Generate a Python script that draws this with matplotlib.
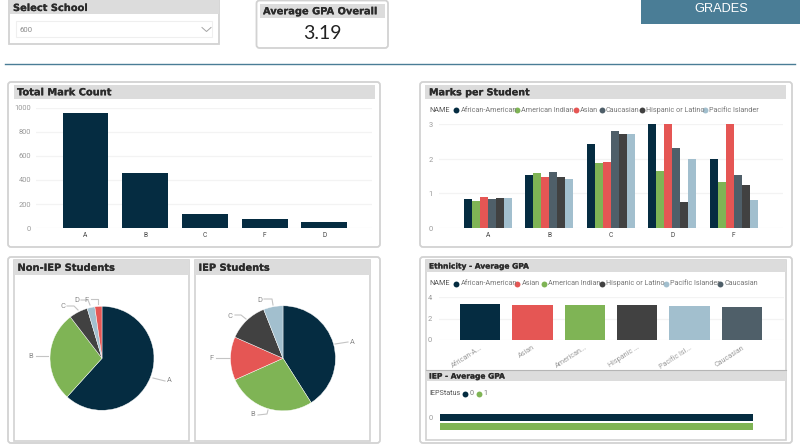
import matplotlib
matplotlib.use('Agg')
import matplotlib.pyplot as plt
import matplotlib.patheffects as pe
from matplotlib.patches import FancyBboxPatch, Rectangle

W, H = 800, 448

# colours
NAVY = '#052c41'
GREEN = '#7fb455'
RED = '#e55654'
SLATE = '#4f5f69'
CHARCOAL = '#414141'
PALE = '#a2bfce'
TEAL = '#4a7d96'
HEADER = '#dcdcdc'
BORDER = '#d2d2d2'

# data
mark_cats = ['A', 'B', 'C', 'F', 'D']
mark_counts = [958, 460, 118, 78, 52]

per_student_cats = ['A', 'B', 'C', 'D', 'F']
per_student_names = ['African-American', 'American Indian', 'Asian', 'Caucasian',
                     'Hispanic or Latino', 'Pacific Islander']
african_american = [0.84, 1.53, 2.43, 3.00, 2.00]
american_indian = [0.77, 1.58, 1.87, 1.66, 1.33]
asian = [0.89, 1.47, 1.91, 3.00, 3.00]
caucasian = [0.85, 1.62, 2.80, 2.32, 1.55]
hispanic = [0.87, 1.49, 2.73, 0.74, 1.25]
pacific = [0.86, 1.42, 2.73, 2.00, 0.82]

non_iep_labels = ['A', 'B', 'C', 'D', 'F']
non_iep_share = [61.7, 27.9, 5.8, 2.4, 2.2]
iep_labels = ['A', 'B', 'F', 'C', 'D']
iep_share = [41.0, 27.3, 13.3, 12.4, 6.0]

eth_names = ['African-American', 'Asian', 'American Indian', 'Hispanic or Latino',
             'Pacific Islander', 'Caucasian']
eth_ticks = ['African-A...', 'Asian', 'American...', 'Hispanic ...', 'Pacific Isl...', 'Caucasian']
eth_gpa = [3.37, 3.28, 3.25, 3.22, 3.16, 3.03]

iep_status = ['0', '1']
iep_gpa = [3.19, 3.19]

plt.rcParams['font.family'] = ['Roboto', 'DejaVu Sans']

fig = plt.figure(figsize=(W / 100, H / 100), dpi=100, facecolor='white')

# background layer in pixel coordinates
bg = fig.add_axes([0, 0, 1, 1], zorder=0)
bg.set_xlim(0, W)
bg.set_ylim(H, 0)
bg.axis('off')


def px_axes(x0, y0, x1, y1):
    ax = fig.add_axes([x0 / W, 1 - y1 / H, (x1 - x0) / W, (y1 - y0) / H], zorder=2)
    ax.patch.set_alpha(0)
    return ax


def card(x0, y0, x1, y1, rounded=True):
    style = 'round,pad=0,rounding_size=3' if rounded else 'square,pad=0'
    bg.add_patch(FancyBboxPatch((x0, y0), x1 - x0, y1 - y0, boxstyle=style,
                                fc='white', ec=BORDER, lw=1.3))


def header(x0, y0, x1, y1, text, size=7.1, tx=None, ty=None):
    bg.add_patch(Rectangle((x0, y0), x1 - x0, y1 - y0, fc=HEADER, ec='none'))
    y = (y0 + y1) / 2 + 0.3 if ty is None else ty
    t = bg.text(x0 + 3 if tx is None else tx, y, text, family='DejaVu Sans',
                weight='bold', fontsize=size, color='#2b2b2b', va='center', ha='left')
    t.set_path_effects([pe.withStroke(linewidth=0.12, foreground='#2b2b2b')])


def legend_row(title, y, names, colors, xs):
    bg.text(429, y, title, fontsize=5.2, color='#555555', va='center')
    for name, c, x in zip(names, colors, xs):
        bg.scatter([x], [y], s=18, color=c, linewidths=0)
        bg.text(x + 4.4, y, name, fontsize=5.2, color='#777777', va='center')


def style_axes(ax, yticks, ypad=3.5):
    for s in ax.spines.values():
        s.set_visible(False)
    ax.set_yticks(yticks)
    ax.tick_params(axis='y', length=0, labelsize=5.4, labelcolor='#9a9a9a', pad=ypad)
    ax.tick_params(axis='x', length=0, labelsize=4.8, labelcolor='#444444', pad=3)
    ax.grid(axis='y', color='#f3f3f3', lw=0.9)
    ax.set_axisbelow(True)


def leader(points):
    xs, ys = zip(*points)
    bg.plot(xs, ys, color='#c4c4c4', lw=0.8)


# top row
card(9, -3, 219, 44, rounded=False)
header(10, -2, 218.5, 14, 'Select School', tx=13, ty=8)
bg.add_patch(Rectangle((16, 21), 196, 16, fc='white', ec='#efefef', lw=0.8))
bg.text(20, 30.5, '600', fontsize=5.6, color='#8a8a8a', va='center')
bg.plot([202, 206.5, 211], [27.5, 31.5, 27.5], color='#a5a5a5', lw=0.7)

card(256.5, 0.5, 388, 48)
header(260, 4, 385, 18, 'Average GPA Overall', tx=263)
bg.text(322, 33.5, '3.19', fontsize=14, color='#222222', ha='center', va='center',
        family='Lato')

bg.add_patch(Rectangle((641, 0), 159, 24, fc=TEAL, ec='none'))
bg.text(721, 9.5, 'GRADES', fontsize=9.2, color='white', ha='center', va='center',
        family='Liberation Sans')
bg.plot([5, 795], [64.5, 64.5], color=TEAL, lw=1)

# Total Mark Count
card(8, 82, 380, 247)
header(14, 85, 375, 99, 'Total Mark Count', tx=17)
ax1 = px_axes(36, 108, 372, 228)
ax1.bar(range(len(mark_cats)), mark_counts, width=0.77, color=NAVY)
ax1.set_xticks(range(len(mark_cats)), mark_cats)
ax1.set_xlim(-0.829, 4.80)
ax1.set_ylim(0, 1000)
style_axes(ax1, [0, 200, 400, 600, 800, 1000])

# Marks per Student
card(420, 82, 792, 247)
header(425, 85, 786, 99, 'Marks per Student', size=6.9, tx=429)
per_colors = [NAVY, GREEN, RED, SLATE, CHARCOAL, PALE]
legend_row('NAME', 110.5, per_student_names, per_colors,
           [456, 517, 575.7, 601.7, 642, 704.7])
ax2 = px_axes(439, 124.5, 783, 228)
bar_w = 0.13
series = [african_american, american_indian, asian, caucasian, hispanic, pacific]
for i, (vals, c) in enumerate(zip(series, per_colors)):
    ax2.bar([g + (i - 2.5) * bar_w for g in range(len(per_student_cats))], vals,
            width=bar_w, color=c)
ax2.set_xticks(range(len(per_student_cats)), per_student_cats)
ax2.set_xlim(-0.792, 4.80)
ax2.set_ylim(0, 3)
style_axes(ax2, [0, 1, 2, 3], ypad=4.5)

# pies
card(8, 257, 380, 443)
for x0, x1, title in [(14, 189, 'Non-IEP Students'), (195, 370, 'IEP Students')]:
    bg.add_patch(Rectangle((x0, 260), x1 - x0, 181, fc='white', ec=BORDER, lw=1.2))
    header(x0, 260, x1, 275, title, tx=x0 + 3.5)

pie_colors = {'A': NAVY, 'B': GREEN, 'C': CHARCOAL, 'D': PALE, 'F': RED}
for (cx, cy, r), share, labels in [((102, 358.3, 52), non_iep_share, non_iep_labels),
                                   ((283, 358.3, 52.5), iep_share, iep_labels)]:
    ax = px_axes(cx - r, cy - r, cx + r, cy + r)
    ax.pie(share, colors=[pie_colors[k] for k in labels], startangle=90, counterclock=False,
           radius=1, wedgeprops={'edgecolor': 'white', 'linewidth': 0.3})
    ax.set_xlim(-1, 1)
    ax.set_ylim(-1, 1)

pie_text = [('A', 169, 380), ('B', 31, 356.5), ('C', 62.5, 306), ('D', 77, 300.5), ('F', 86, 300),
            ('A', 352, 342.5), ('B', 253, 415), ('F', 211.5, 358), ('C', 230, 316), ('D', 260, 301)]
for t, x, y in pie_text:
    bg.text(x, y, t, fontsize=5.4, color='#8a8a8a', ha='center', va='center')
for pts in [[(153, 378), (165, 381)], [(36, 356), (48, 356)],
            [(67, 306), (74, 306), (78, 310)], [(81, 300), (88, 300), (90, 305)],
            [(91, 299), (98, 299), (98, 304)],
            [(335, 344), (348, 342)], [(258, 415), (267, 414), (268, 410)],
            [(216, 358), (230, 358)], [(235, 315), (241, 315), (246, 319)],
            [(264, 299), (272, 299), (273, 305)]]:
    leader(pts)

# Ethnicity + IEP panel
card(420, 257, 792, 443)
bg.add_patch(Rectangle((425.5, 260), 360.5, 180, fc='white', ec=BORDER, lw=1.2))
header(426, 260.5, 786, 272, 'Ethnicity - Average GPA', size=5.4, tx=429)
eth_colors = [NAVY, RED, GREEN, CHARCOAL, PALE, SLATE]
legend_row('NAME', 283.7, eth_names, eth_colors, [456.3, 517.3, 544, 602, 666, 720])
ax3 = px_axes(439, 297, 784, 340)
ax3.bar(range(len(eth_ticks)), eth_gpa, width=0.77, color=eth_colors)
ax3.set_xticks(range(len(eth_ticks)), eth_ticks)
ax3.set_xlim(-0.79, 5.81)
ax3.set_ylim(0, 4)
style_axes(ax3, [0, 2, 4], ypad=5)
ax3.tick_params(axis='x', labelsize=5.2, labelcolor='#9a9a9a', pad=3)
for lab in ax3.get_xticklabels():
    lab.set_rotation(33)
    lab.set_ha('right')
    lab.set_rotation_mode('anchor')

bg.plot([426, 786], [370, 370], color='#b5b5b5', lw=0.8)
header(426, 371, 786, 381.5, 'IEP - Average GPA', size=5.4, tx=429)
legend_row('IEPStatus', 393.7, iep_status, [NAVY, GREEN], [465, 479.3])
ax4 = px_axes(440, 412, 784, 432)
bar_h = 0.45
ax4.barh([0.24, -0.24], iep_gpa, height=bar_h * 0.8, color=[NAVY, GREEN])
ax4.set_xlim(0, 3.505)
ax4.set_ylim(-0.5, 0.5)
for s in ax4.spines.values():
    s.set_visible(False)
ax4.set_xticks([])
ax4.set_yticks([0.24], ['0'])
ax4.tick_params(axis='y', length=0, labelsize=5.4, labelcolor='#9a9a9a', pad=5)

fig.savefig('out.png', dpi=100)
